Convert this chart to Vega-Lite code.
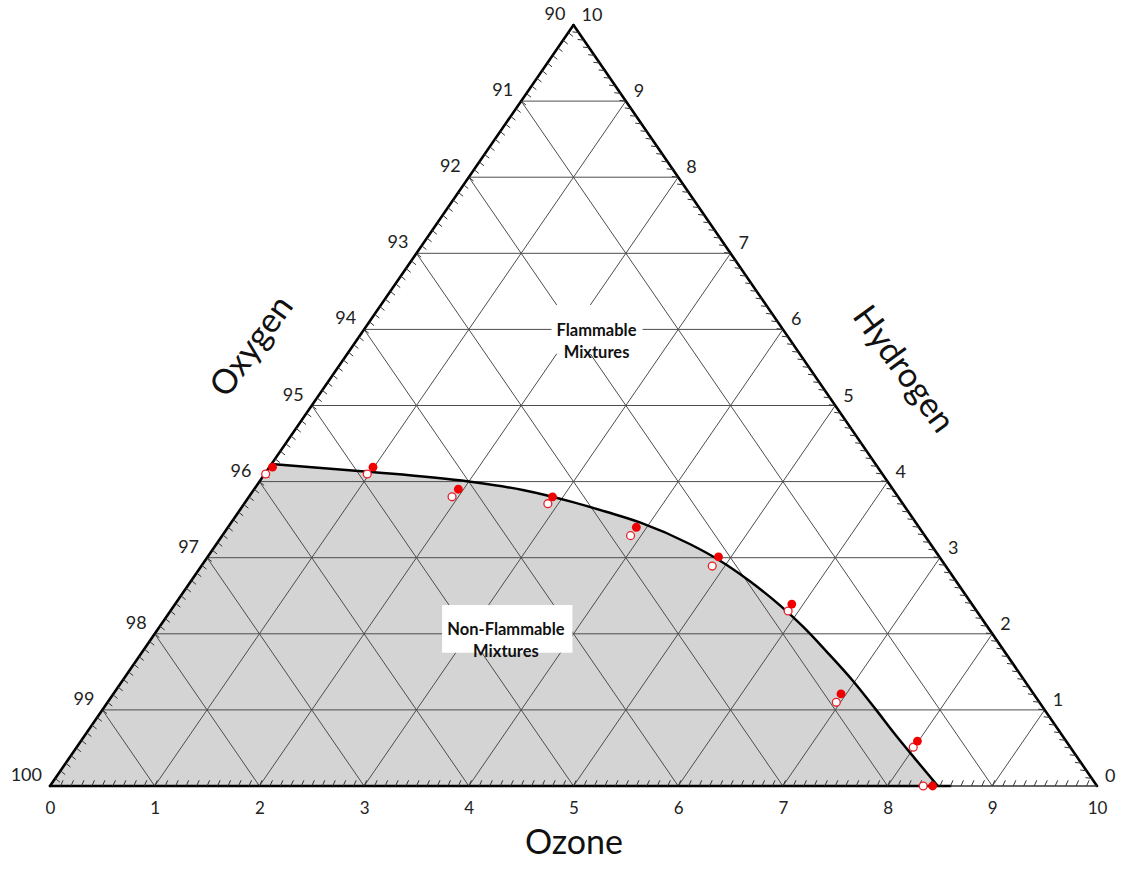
{
  "$schema": "https://vega.github.io/schema/vega-lite/v6.json",
  "autosize": "none",
  "width": 1047,
  "height": 761,
  "padding": {"left": 50, "top": 25, "right": 24, "bottom": 85},
  "background": "white",
  "config": {
    "view": {"stroke": null},
    "font": "Lato",
    "text": {"font": "Lato"}
  },
  "encoding": {
    "x": {
      "field": "X",
      "type": "quantitative",
      "scale": {"domain": [0, 10], "nice": false},
      "axis": {
        "title": "Ozone",
        "values": [0, 1, 2, 3, 4, 5, 6, 7, 8, 9, 10],
        "format": "d",
        "domain": false,
        "ticks": false,
        "tickSize": 0,
        "grid": false,
        "labelFont": "Lato",
        "labelFontSize": 17,
        "labelColor": "#222",
        "labelPadding": 14,
        "labelFlush": false,
        "titleFont": "Lato",
        "titleFontSize": 34,
        "titleFontWeight": "normal",
        "titleColor": "#111",
        "titleY": 67,
        "titleBaseline": "alphabetic"
      }
    },
    "y": {
      "field": "h",
      "type": "quantitative",
      "scale": {"domain": [0, 10], "nice": false},
      "axis": null
    }
  },
  "layer": [
    {
      "data": {"name": "boundary"},
      "transform": [{"calculate": "datum.oz + datum.h / 2", "as": "X"}],
      "mark": {"type": "area", "color": "#d4d4d4", "opacity": 1, "interpolate": "linear"}
    },
    {
      "data": {
        "values": [
          {"oz": 0, "h": 1, "oz2": 9, "h2": 1},
          {"oz": 0, "h": 2, "oz2": 8, "h2": 2},
          {"oz": 0, "h": 3, "oz2": 7, "h2": 3},
          {"oz": 0, "h": 4, "oz2": 6, "h2": 4},
          {"oz": 0, "h": 5, "oz2": 5, "h2": 5},
          {"oz": 0, "h": 6, "oz2": 4, "h2": 6},
          {"oz": 0, "h": 7, "oz2": 3, "h2": 7},
          {"oz": 0, "h": 8, "oz2": 2, "h2": 8},
          {"oz": 0, "h": 9, "oz2": 1, "h2": 9},
          {"oz": 1, "h": 0, "oz2": 1, "h2": 9},
          {"oz": 2, "h": 0, "oz2": 2, "h2": 8},
          {"oz": 3, "h": 0, "oz2": 3, "h2": 7},
          {"oz": 4, "h": 0, "oz2": 4, "h2": 6},
          {"oz": 5, "h": 0, "oz2": 5, "h2": 5},
          {"oz": 6, "h": 0, "oz2": 6, "h2": 4},
          {"oz": 7, "h": 0, "oz2": 7, "h2": 3},
          {"oz": 8, "h": 0, "oz2": 8, "h2": 2},
          {"oz": 9, "h": 0, "oz2": 9, "h2": 1},
          {"oz": 1, "h": 0, "oz2": 0, "h2": 1},
          {"oz": 2, "h": 0, "oz2": 0, "h2": 2},
          {"oz": 3, "h": 0, "oz2": 0, "h2": 3},
          {"oz": 4, "h": 0, "oz2": 0, "h2": 4},
          {"oz": 5, "h": 0, "oz2": 0, "h2": 5},
          {"oz": 6, "h": 0, "oz2": 0, "h2": 6},
          {"oz": 7, "h": 0, "oz2": 0, "h2": 7},
          {"oz": 8, "h": 0, "oz2": 0, "h2": 8},
          {"oz": 9, "h": 0, "oz2": 0, "h2": 9}
        ]
      },
      "transform": [
        {"calculate": "datum.oz + datum.h / 2", "as": "X"},
        {"calculate": "datum.oz2 + datum.h2 / 2", "as": "X2"}
      ],
      "mark": {"type": "rule", "color": "#4d4d4d", "strokeWidth": 1},
      "encoding": {"x2": {"field": "X2"}, "y2": {"field": "h2"}}
    },
    {
      "data": {
        "values": [
          {"oz": 1.95, "h": 5.68, "oz2": 2.5, "h2": 6.32},
          {"oz": 2.87, "h": 1.75, "oz2": 3.8, "h2": 2.38}
        ]
      },
      "transform": [
        {"calculate": "datum.oz + datum.h / 2", "as": "X"},
        {"calculate": "datum.oz2 + datum.h2 / 2", "as": "X2"}
      ],
      "mark": {"type": "rect", "color": "white", "opacity": 1},
      "encoding": {"x2": {"field": "X2"}, "y2": {"field": "h2"}}
    },
    {
      "data": {
        "values": [
          {"label": "Flammable\nMixtures", "oz": 2.23, "h": 5.98},
          {"label": "Non-Flammable\nMixtures", "oz": 3.33, "h": 2.05}
        ]
      },
      "transform": [{"calculate": "datum.oz + datum.h / 2", "as": "X"}],
      "mark": {
        "type": "text",
        "lineBreak": "\n",
        "fontSize": 16.5,
        "fontWeight": "bold",
        "lineHeight": 22,
        "align": "center",
        "baseline": "middle",
        "color": "#111"
      },
      "encoding": {"text": {"field": "label"}}
    },
    {
      "data": {"name": "boundary"},
      "transform": [
        {"filter": "datum.h > 0 || datum.oz > 0"},
        {"calculate": "datum.oz + datum.h / 2", "as": "X"}
      ],
      "mark": {"type": "line", "color": "black", "strokeWidth": 2.5, "interpolate": "monotone"}
    },
    {
      "data": {
        "values": [
          {"oz": 0, "h": 0, "oz2": 0, "h2": 10},
          {"oz": 10, "h": 0, "oz2": 0, "h2": 10},
          {"oz": 0, "h": 0, "oz2": 8.6, "h2": 0}
        ]
      },
      "transform": [
        {"calculate": "datum.oz + datum.h / 2", "as": "X"},
        {"calculate": "datum.oz2 + datum.h2 / 2", "as": "X2"}
      ],
      "mark": {"type": "rule", "color": "black", "strokeWidth": 2.6, "strokeCap": "round"},
      "encoding": {"x2": {"field": "X2"}, "y2": {"field": "h2"}}
    },
    {
      "data": {"values": [{"oz": 8.6, "h": 0, "oz2": 10, "h2": 0}]},
      "transform": [
        {"calculate": "datum.oz + datum.h / 2", "as": "X"},
        {"calculate": "datum.oz2 + datum.h2 / 2", "as": "X2"}
      ],
      "mark": {"type": "rule", "color": "#333", "strokeWidth": 1.5},
      "encoding": {"x2": {"field": "X2"}, "y2": {"field": "h2"}}
    },
    {
      "data": {"name": "ticks"},
      "transform": [
        {"calculate": "datum.t", "as": "X"},
        {"calculate": "0", "as": "h"},
        {"calculate": "datum.t + 0.025", "as": "X2"},
        {"calculate": "0.075", "as": "h2"}
      ],
      "mark": {"type": "rule", "color": "#333", "strokeWidth": 1},
      "encoding": {"x2": {"field": "X2"}, "y2": {"field": "h2"}}
    },
    {
      "data": {"name": "ticks"},
      "transform": [
        {"calculate": "datum.t / 2", "as": "X"},
        {"calculate": "datum.t", "as": "h"},
        {"calculate": "datum.t / 2 + 0.045", "as": "X2"},
        {"calculate": "datum.t - 0.05", "as": "h2"}
      ],
      "mark": {"type": "rule", "color": "#333", "strokeWidth": 1},
      "encoding": {"x2": {"field": "X2"}, "y2": {"field": "h2"}}
    },
    {
      "data": {"name": "ticks"},
      "transform": [
        {"calculate": "10 - datum.t / 2", "as": "X"},
        {"calculate": "datum.t", "as": "h"},
        {"calculate": "10 - datum.t / 2 - 0.06", "as": "X2"},
        {"calculate": "datum.t + 0.01", "as": "h2"}
      ],
      "mark": {"type": "rule", "color": "#333", "strokeWidth": 1},
      "encoding": {"x2": {"field": "X2"}, "y2": {"field": "h2"}}
    },
    {
      "data": {
        "values": [
          {"run": "open", "oz": 0.01, "h": 4.1},
          {"run": "open", "oz": 0.98, "h": 4.1},
          {"run": "open", "oz": 1.94, "h": 3.8},
          {"run": "open", "oz": 2.9, "h": 3.71},
          {"run": "open", "oz": 3.9, "h": 3.29},
          {"run": "open", "oz": 4.88, "h": 2.89},
          {"run": "open", "oz": 5.9, "h": 2.3},
          {"run": "open", "oz": 6.96, "h": 1.1},
          {"run": "open", "oz": 7.99, "h": 0.51},
          {"run": "open", "oz": 8.34, "h": 0},
          {"run": "filled", "oz": 0.03, "h": 4.19},
          {"run": "filled", "oz": 0.99, "h": 4.19},
          {"run": "filled", "oz": 1.95, "h": 3.9},
          {"run": "filled", "oz": 2.9, "h": 3.8},
          {"run": "filled", "oz": 3.9, "h": 3.4},
          {"run": "filled", "oz": 4.88, "h": 3.01},
          {"run": "filled", "oz": 5.89, "h": 2.39},
          {"run": "filled", "oz": 6.95, "h": 1.21},
          {"run": "filled", "oz": 7.99, "h": 0.59},
          {"run": "filled", "oz": 8.43, "h": 0}
        ]
      },
      "transform": [{"calculate": "datum.oz + datum.h / 2", "as": "X"}],
      "layer": [
        {
          "transform": [{"filter": "datum.run == 'open'"}],
          "mark": {"type": "point", "shape": "circle", "filled": true, "fill": "white", "stroke": "#e8202a", "strokeWidth": 1.3, "size": 62, "opacity": 1}
        },
        {
          "transform": [{"filter": "datum.run == 'filled'"}],
          "mark": {"type": "point", "shape": "circle", "filled": true, "color": "#f00000", "size": 78, "opacity": 1}
        }
      ]
    },
    {
      "data": {
        "values": [
          {"label": "90", "oz": 0, "h": 10},
          {"label": "91", "oz": 0, "h": 9},
          {"label": "92", "oz": 0, "h": 8},
          {"label": "93", "oz": 0, "h": 7},
          {"label": "94", "oz": 0, "h": 6},
          {"label": "95", "oz": 0, "h": 5},
          {"label": "96", "oz": 0, "h": 4},
          {"label": "97", "oz": 0, "h": 3},
          {"label": "98", "oz": 0, "h": 2},
          {"label": "99", "oz": 0, "h": 1},
          {"label": "100", "oz": 0, "h": 0}
        ]
      },
      "transform": [{"calculate": "datum.oz + datum.h / 2", "as": "X"}],
      "mark": {"type": "text", "fontSize": 18, "align": "right", "baseline": "middle", "dx": -8, "dy": -10, "color": "#222"},
      "encoding": {"text": {"field": "label"}}
    },
    {
      "data": {
        "values": [
          {"label": "10", "oz": 0, "h": 10},
          {"label": "9", "oz": 1, "h": 9},
          {"label": "8", "oz": 2, "h": 8},
          {"label": "7", "oz": 3, "h": 7},
          {"label": "6", "oz": 4, "h": 6},
          {"label": "5", "oz": 5, "h": 5},
          {"label": "4", "oz": 6, "h": 4},
          {"label": "3", "oz": 7, "h": 3},
          {"label": "2", "oz": 8, "h": 2},
          {"label": "1", "oz": 9, "h": 1},
          {"label": "0", "oz": 10, "h": 0}
        ]
      },
      "transform": [{"calculate": "datum.oz + datum.h / 2", "as": "X"}],
      "mark": {"type": "text", "fontSize": 18, "align": "left", "baseline": "middle", "dx": 8, "dy": -9, "color": "#222"},
      "encoding": {"text": {"field": "label"}}
    },
    {
      "data": {"values": [{"label": "Oxygen", "oz": -0.95, "h": 5.77}]},
      "transform": [{"calculate": "datum.oz + datum.h / 2", "as": "X"}],
      "mark": {"type": "text", "fontSize": 34, "angle": 306, "align": "center", "baseline": "middle", "color": "#111"},
      "encoding": {"text": {"field": "label"}}
    },
    {
      "data": {"values": [{"label": "Hydrogen", "oz": 5.41, "h": 5.47}]},
      "transform": [{"calculate": "datum.oz + datum.h / 2", "as": "X"}],
      "mark": {"type": "text", "fontSize": 34, "angle": 54, "align": "center", "baseline": "middle", "color": "#111"},
      "encoding": {"text": {"field": "label"}}
    }
  ],
  "datasets": {
    "boundary": [
      {"oz": 0, "h": 0},
      {"oz": 0, "h": 4.23},
      {"oz": 0.97, "h": 4.13},
      {"oz": 2.0, "h": 4.0},
      {"oz": 2.57, "h": 3.89},
      {"oz": 3.13, "h": 3.73},
      {"oz": 3.52, "h": 3.6},
      {"oz": 3.91, "h": 3.46},
      {"oz": 4.52, "h": 3.18},
      {"oz": 4.92, "h": 2.96},
      {"oz": 5.34, "h": 2.69},
      {"oz": 5.79, "h": 2.37},
      {"oz": 6.15, "h": 2.09},
      {"oz": 6.53, "h": 1.77},
      {"oz": 6.98, "h": 1.38},
      {"oz": 7.38, "h": 1.01},
      {"oz": 7.72, "h": 0.69},
      {"oz": 8.07, "h": 0.37},
      {"oz": 8.48, "h": 0}
    ],
    "ticks": [
      {"t": 0.1}, {"t": 0.2}, {"t": 0.3}, {"t": 0.4}, {"t": 0.5}, {"t": 0.6}, {"t": 0.7}, {"t": 0.8}, {"t": 0.9}, {"t": 1.0},
      {"t": 1.1}, {"t": 1.2}, {"t": 1.3}, {"t": 1.4}, {"t": 1.5}, {"t": 1.6}, {"t": 1.7}, {"t": 1.8}, {"t": 1.9}, {"t": 2.0},
      {"t": 2.1}, {"t": 2.2}, {"t": 2.3}, {"t": 2.4}, {"t": 2.5}, {"t": 2.6}, {"t": 2.7}, {"t": 2.8}, {"t": 2.9}, {"t": 3.0},
      {"t": 3.1}, {"t": 3.2}, {"t": 3.3}, {"t": 3.4}, {"t": 3.5}, {"t": 3.6}, {"t": 3.7}, {"t": 3.8}, {"t": 3.9}, {"t": 4.0},
      {"t": 4.1}, {"t": 4.2}, {"t": 4.3}, {"t": 4.4}, {"t": 4.5}, {"t": 4.6}, {"t": 4.7}, {"t": 4.8}, {"t": 4.9}, {"t": 5.0},
      {"t": 5.1}, {"t": 5.2}, {"t": 5.3}, {"t": 5.4}, {"t": 5.5}, {"t": 5.6}, {"t": 5.7}, {"t": 5.8}, {"t": 5.9}, {"t": 6.0},
      {"t": 6.1}, {"t": 6.2}, {"t": 6.3}, {"t": 6.4}, {"t": 6.5}, {"t": 6.6}, {"t": 6.7}, {"t": 6.8}, {"t": 6.9}, {"t": 7.0},
      {"t": 7.1}, {"t": 7.2}, {"t": 7.3}, {"t": 7.4}, {"t": 7.5}, {"t": 7.6}, {"t": 7.7}, {"t": 7.8}, {"t": 7.9}, {"t": 8.0},
      {"t": 8.1}, {"t": 8.2}, {"t": 8.3}, {"t": 8.4}, {"t": 8.5}, {"t": 8.6}, {"t": 8.7}, {"t": 8.8}, {"t": 8.9}, {"t": 9.0},
      {"t": 9.1}, {"t": 9.2}, {"t": 9.3}, {"t": 9.4}, {"t": 9.5}, {"t": 9.6}, {"t": 9.7}, {"t": 9.8}, {"t": 9.9}
    ]
  }
}
